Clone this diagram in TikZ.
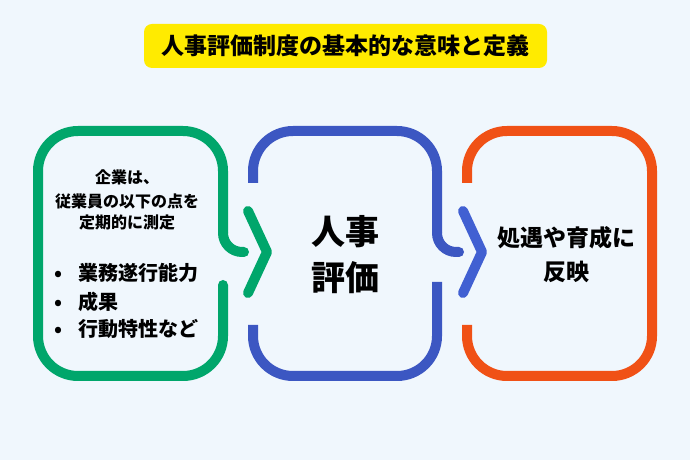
\documentclass[tikz,border=0pt]{standalone}
\usepackage{fontspec}
\setmainfont{Noto Sans CJK JP}
\usepackage{tikz}

\definecolor{bgblue}{HTML}{F0F7FD}
\definecolor{titleyellow}{HTML}{FFEB00}
\definecolor{stepgreen}{HTML}{00A66B}
\definecolor{stepblue}{HTML}{3C57C2}
\definecolor{chevblue}{HTML}{4160D2}
\definecolor{steporange}{HTML}{F05116}

\tikzset{
    frame/.style={line width=10pt, line cap=round, rounded corners=40pt},
    framebutt/.style={line width=10pt, line cap=butt, rounded corners=40pt},
    chev/.style={line width=10pt, line cap=round, line join=round},
    jp/.style={font=\bfseries\fontsize{#1}{#1}\selectfont, inner sep=0pt, anchor=base},
}

\begin{document}
\begin{tikzpicture}[x=1pt,y=1pt]
    \fill[bgblue] (0,0) rectangle (690,460);
    \useasboundingbox (0,0) rectangle (690,460);

    \pgfmathsetmacro{\hookR}{19}

    % title
    \fill[titleyellow, rounded corners=8pt] (144,392) rectangle (547,436);
    \node[jp=23] (title) at (345.5,405) {人事評価制度の基本的な意味と定義};

    % green box
    \draw[frame, stepgreen] (223,175) -- (223,84) -- (38,84) -- (38,329)
        -- (223,329) -- (223,227);
    \draw[line width=10pt, line cap=round, stepgreen] (223,227)
        arc[start angle=180, end angle=270, radius=\hookR] -- ++(2,0);

    % blue box
    \draw[framebutt, stepblue] (253,277) -- (253,329) -- (437,329) -- (437,227);
    \draw[line width=10pt, line cap=round, stepblue] (437,227)
        arc[start angle=180, end angle=270, radius=\hookR] -- ++(3,0);
    \draw[framebutt, stepblue] (437,178) -- (437,84) -- (253,84) -- (253,135);

    % orange box
    \draw[framebutt, steporange] (467,277) -- (467,329) -- (652,329)
        -- (652,84) -- (467,84) -- (467,135);

    % chevrons
    \coordinate (gtop) at (248,249);
    \coordinate (gtip) at (267,208);
    \coordinate (gbot) at (248,167);
    \draw[chev, stepgreen] (gtop) -- (gtip) -- (gbot);

    \coordinate (btop) at (463,249);
    \coordinate (btip) at (482,208);
    \coordinate (bbot) at (463,167);
    \draw[chev, chevblue] (btop) -- (btip) -- (bbot);

    % texts, green box
    \node[jp=16] (gA) at (127,276) {企業は、};
    \node[jp=16] (gB) at (127,252) {従業員の以下の点を};
    \node[jp=16] (gC) at (127,231) {定期的に測定};

    \node[jp=20] (dot1) at (58,179.5) {•};
    \node[jp=20] (dot2) at (58,150.5) {•};
    \node[jp=20] (dot3) at (58,123.5) {•};
    \node[jp=20, anchor=base west] (item1) at (78,179.5) {業務遂行能力};
    \node[jp=20, anchor=base west] (item2) at (78,150.5) {成果};
    \node[jp=20, anchor=base west] (item3) at (78,123.5) {行動特性など};

    % texts, blue box
    \node[jp=34] (hrA) at (345,215) {人事};
    \node[jp=34] (hrB) at (345,169) {評価};

    % texts, orange box
    \node[jp=23] (oA) at (566,213) {処遇や育成に};
    \node[jp=23] (oB) at (566,179) {反映};
\end{tikzpicture}
\end{document}
